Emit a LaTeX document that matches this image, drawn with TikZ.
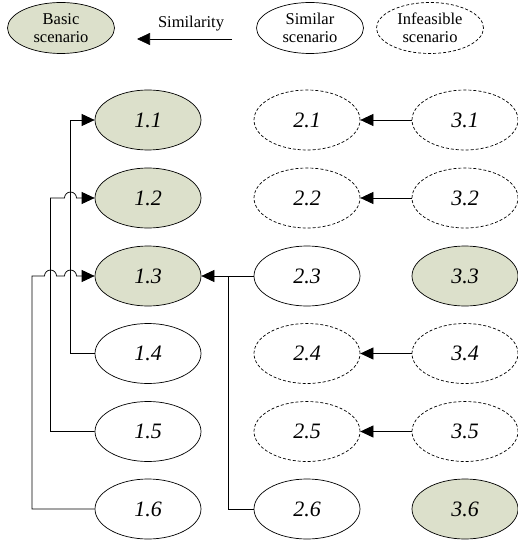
\documentclass[tikz,border=0pt]{standalone}
\usepackage{fontspec}
\setmainfont{Liberation Serif}
\usetikzlibrary{shapes.geometric,arrows.meta}
\definecolor{basicfill}{RGB}{220,224,203}
\begin{document}
\begin{tikzpicture}[x=1pt,y=1pt,
  scen/.style={ellipse,draw,line width=0.7pt,minimum width=106pt,minimum height=60pt,inner sep=0pt,font=\fontsize{22}{24}\selectfont\itshape},
  basic/.style={scen,fill=basicfill},
  infeas/.style={scen,dash pattern=on 3pt off 2pt},
  leg/.style={ellipse,draw,line width=0.7pt,minimum width=107pt,minimum height=51pt,inner sep=0pt,align=center,font=\fontsize{16.5}{18}\selectfont},
  conn/.style={line width=0.7pt},
  arr/.style={conn,-{Triangle[length=13pt,width=12pt]}}
]
\useasboundingbox (0,0) rectangle (518,-540);
% legend
\node[leg,fill=basicfill] (lb) at (61,-28) {Basic\\scenario};
\node[leg] (ls) at (310,-28) {Similar\\scenario};
\node[leg,dash pattern=on 3pt off 2pt] (li) at (430,-28) {Infeasible\\scenario};
\coordinate (as) at (232,-39);
\coordinate (ae) at (137,-39);
\draw[arr] (as) -- (ae);
\node[font=\fontsize{16.5}{18}\selectfont] (lsim) at (191,-24) {Similarity};
% column 1
\node[basic] (n11) at (148,-120) {1.1};
\node[basic] (n12) at (148,-198) {1.2};
\node[basic] (n13) at (148,-276) {1.3};
\node[scen] (n14) at (148,-353.5) {1.4};
\node[scen] (n15) at (148,-431.5) {1.5};
\node[scen] (n16) at (148,-509) {1.6};
% column 2
\node[infeas] (n21) at (307,-120) {2.1};
\node[infeas] (n22) at (307,-198) {2.2};
\node[scen] (n23) at (307,-276) {2.3};
\node[infeas] (n24) at (307,-353.5) {2.4};
\node[infeas] (n25) at (307,-431.5) {2.5};
\node[scen] (n26) at (307,-509) {2.6};
% column 3
\node[infeas] (n31) at (465,-120) {3.1};
\node[infeas] (n32) at (465,-198) {3.2};
\node[basic] (n33) at (465,-276) {3.3};
\node[infeas] (n34) at (465,-353.5) {3.4};
\node[infeas] (n35) at (465,-431.5) {3.5};
\node[basic] (n36) at (465,-509) {3.6};
% right-to-left arrows
\draw[arr] (n31) -- (n21);
\draw[arr] (n32) -- (n22);
\draw[arr] (n34) -- (n24);
\draw[arr] (n35) -- (n25);
\draw[arr] (n23) -- (n13);
\draw[conn] (n26.west) -| (228,-276);
% left elbows
\draw[arr] (n14.west) -| (70.5,-120) -- (n11.west);
\draw[arr] (n15.west) -| (50.5,-198) -- (64.5,-198) arc (180:0:6) -- (n12.west);
\draw[arr] (n16.west) -| (32,-276) -- (44.5,-276) arc (180:0:6) -- (64.5,-276) arc (180:0:6) -- (n13.west);
\end{tikzpicture}
\end{document}
